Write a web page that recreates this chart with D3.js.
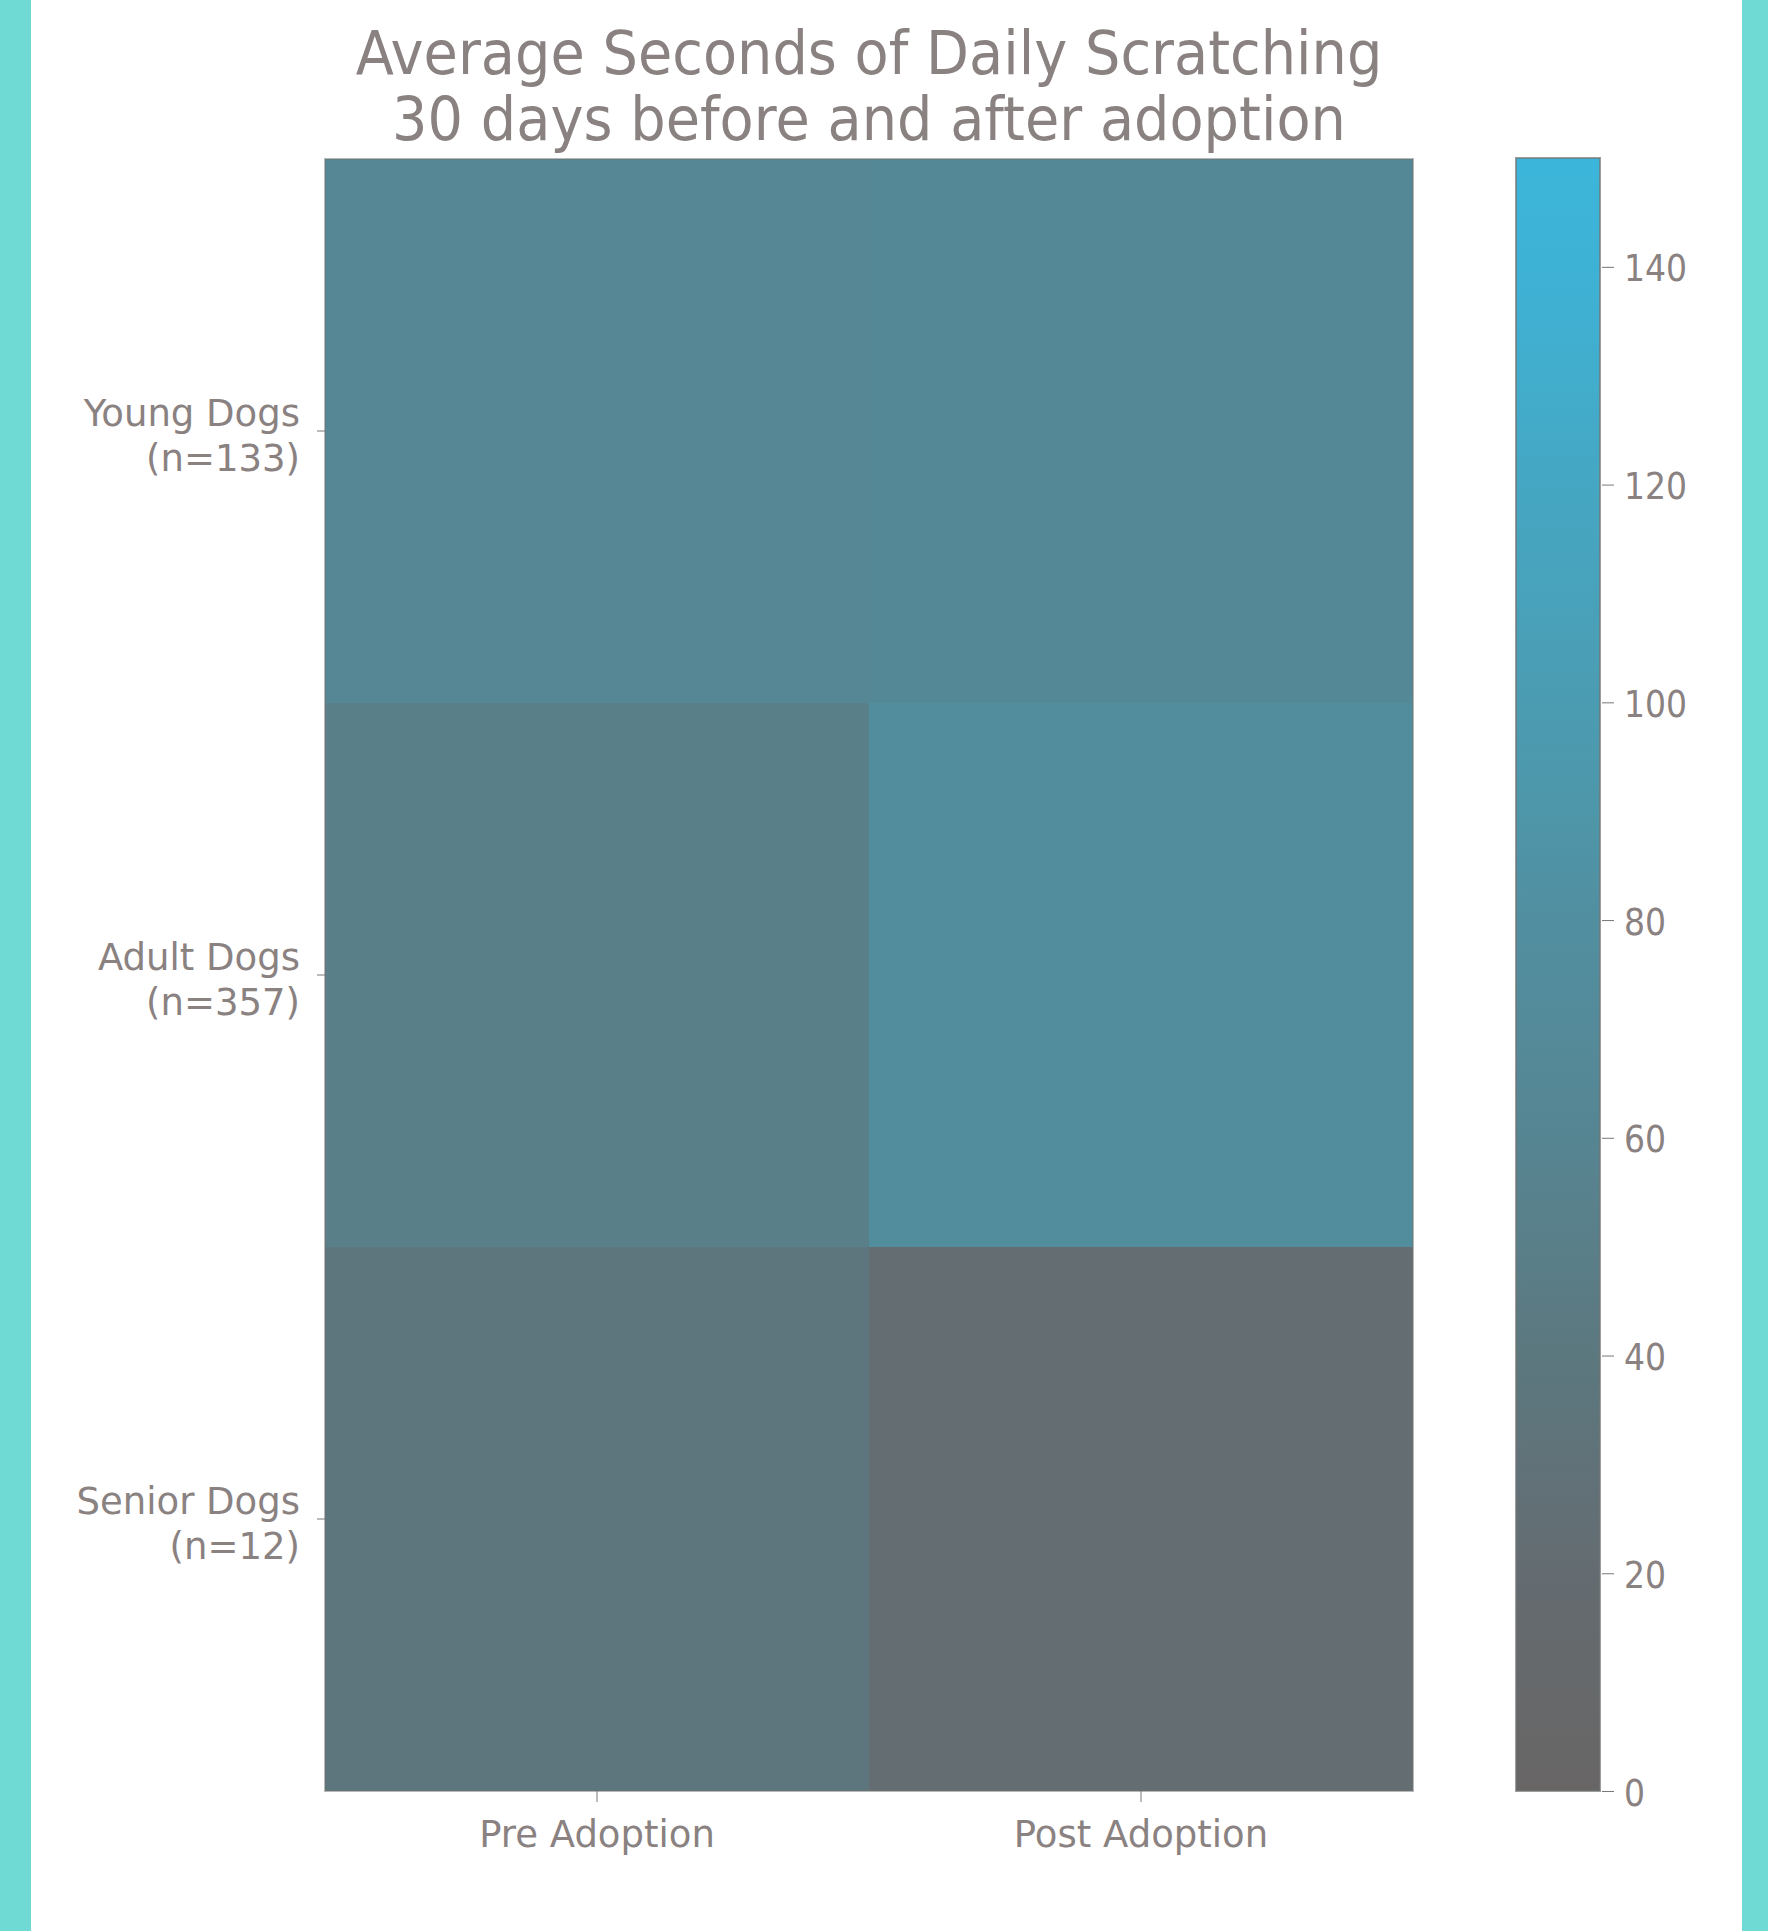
<!DOCTYPE html>
<html><head><meta charset="utf-8">
<script src="https://cdn.jsdelivr.net/npm/d3@7"></script>
<style>body{margin:0;background:#fff} svg{display:block}</style>
</head><body><svg id="c" width="1768" height="1931"></svg>
<script>
// ---- data ----
const categories = ["Young Dogs", "Adult Dogs", "Senior Dogs"];
const sampleSizes = ["(n=133)", "(n=357)", "(n=12)"];
const periods = ["Pre Adoption", "Post Adoption"];
const preValues = [64, 50, 37];
const postValues = [65, 76, 22];
const colorTicks = [0, 20, 40, 60, 80, 100, 120, 140];
const colorMax = 150;
const titleLines = ["Average Seconds of Daily Scratching", "30 days before and after adoption"];
// colormap stops (style)
const cmapDomain = [0, 20, 40, 60, 80, 100, 120, 140, 150];
const cmapRange = ["#686565", "#646c71", "#5c787f", "#568592", "#518fa0", "#4b9cb2", "#45a7c3", "#3eb2d5", "#3bb6da"];

// ---- layout ----
const W = 1768, H = 1931;
const txt = "#8a8181";
const font = "DejaVu Sans, sans-serif";
const svg = d3.select("#c");
svg.append("rect").attr("width", W).attr("height", H).attr("fill", "#6fdad4");
svg.append("rect").attr("x", 31).attr("width", 1711).attr("height", H).attr("fill", "#ffffff");

const plot = {left: 325, right: 1413, top: 159, bottom: 1791};
const x = d3.scaleBand().domain(periods).range([plot.left, plot.right]);
const y = d3.scaleBand().domain(categories).range([plot.top, plot.bottom]);
const color = d3.scaleLinear().domain(cmapDomain).range(cmapRange).interpolate(d3.interpolateRgb).clamp(true);

const cells = [];
categories.forEach((c, i) => {
  cells.push({row: c, col: periods[0], v: preValues[i]});
  cells.push({row: c, col: periods[1], v: postValues[i]});
});
svg.append("g").selectAll("rect").data(cells).join("rect")
  .attr("x", d => x(d.col)).attr("y", d => y(d.row))
  .attr("width", x.bandwidth()).attr("height", y.bandwidth())
  .attr("fill", d => color(d.v)).attr("shape-rendering", "crispEdges");
svg.append("rect").attr("x", plot.left).attr("y", plot.top)
  .attr("width", plot.right - plot.left).attr("height", plot.bottom - plot.top)
  .attr("fill", "none").attr("stroke", "#6f7272").attr("stroke-width", 2).attr("stroke-opacity", 0.5);

// ---- title ----
const tg = svg.append("g").attr("transform", `translate(${(plot.left + plot.right) / 2},0)`);
[74, 140].forEach((by, i) => {
  tg.append("text").attr("transform", `translate(0,${by}) scale(0.93,1)`)
    .attr("text-anchor", "middle").attr("font-family", font).attr("font-size", 60)
    .attr("fill", txt).text(titleLines[i]);
});

// ---- y axis ----
const ya = svg.append("g").attr("transform", `translate(${plot.left},0)`)
  .call(d3.axisLeft(y).tickSize(8).tickPadding(12).tickFormat(""));
ya.select(".domain").remove();
ya.selectAll(".tick line").attr("stroke", "#777");
ya.selectAll(".tick").each(function(d, i) {
  const t = d3.select(this).append("text").attr("fill", txt)
    .attr("font-family", font).attr("font-size", 37).attr("text-anchor", "end")
    .attr("transform", "translate(-25,0)");
  t.append("tspan").attr("x", 0).attr("y", -5).text(categories[i]);
  t.append("tspan").attr("x", 0).attr("y", 40).text(sampleSizes[i]);
});

// ---- x axis ----
const xa = svg.append("g").attr("transform", `translate(0,${plot.bottom})`)
  .call(d3.axisBottom(x).tickSize(11).tickFormat(""));
xa.select(".domain").remove();
xa.selectAll(".tick line").attr("stroke", "#777");
xa.selectAll(".tick").append("text").attr("fill", txt)
  .attr("font-family", font).attr("font-size", 37).attr("text-anchor", "middle")
  .attr("transform", "translate(0,56)").text(d => d);

// ---- colorbar ----
const cb = {left: 1516, right: 1600, top: 158, bottom: 1791};
const cy = d3.scaleLinear().domain([0, colorMax]).range([cb.bottom, cb.top]);
const defs = svg.append("defs");
const grad = defs.append("linearGradient").attr("id", "cbg")
  .attr("x1", 0).attr("y1", 1).attr("x2", 0).attr("y2", 0);
d3.range(0, 31).forEach(k => {
  const v = colorMax * k / 30;
  grad.append("stop").attr("offset", k / 30).attr("stop-color", color(v));
});
svg.append("rect").attr("x", cb.left).attr("y", cb.top)
  .attr("width", cb.right - cb.left).attr("height", cb.bottom - cb.top)
  .attr("fill", "url(#cbg)").attr("stroke", "#707474").attr("stroke-width", 2).attr("stroke-opacity", 0.7);
const ca = svg.append("g").attr("transform", `translate(${cb.right + 2},0)`)
  .call(d3.axisRight(cy).tickValues(colorTicks).tickSize(12).tickPadding(10));
ca.select(".domain").remove();
ca.selectAll(".tick line").attr("stroke", "#777");
ca.selectAll(".tick text").attr("fill", txt).attr("font-family", font).attr("font-size", 38)
  .attr("x", null).attr("dy", null)
  .attr("transform", "translate(22,14) scale(0.87,1)");
</script></body></html>
